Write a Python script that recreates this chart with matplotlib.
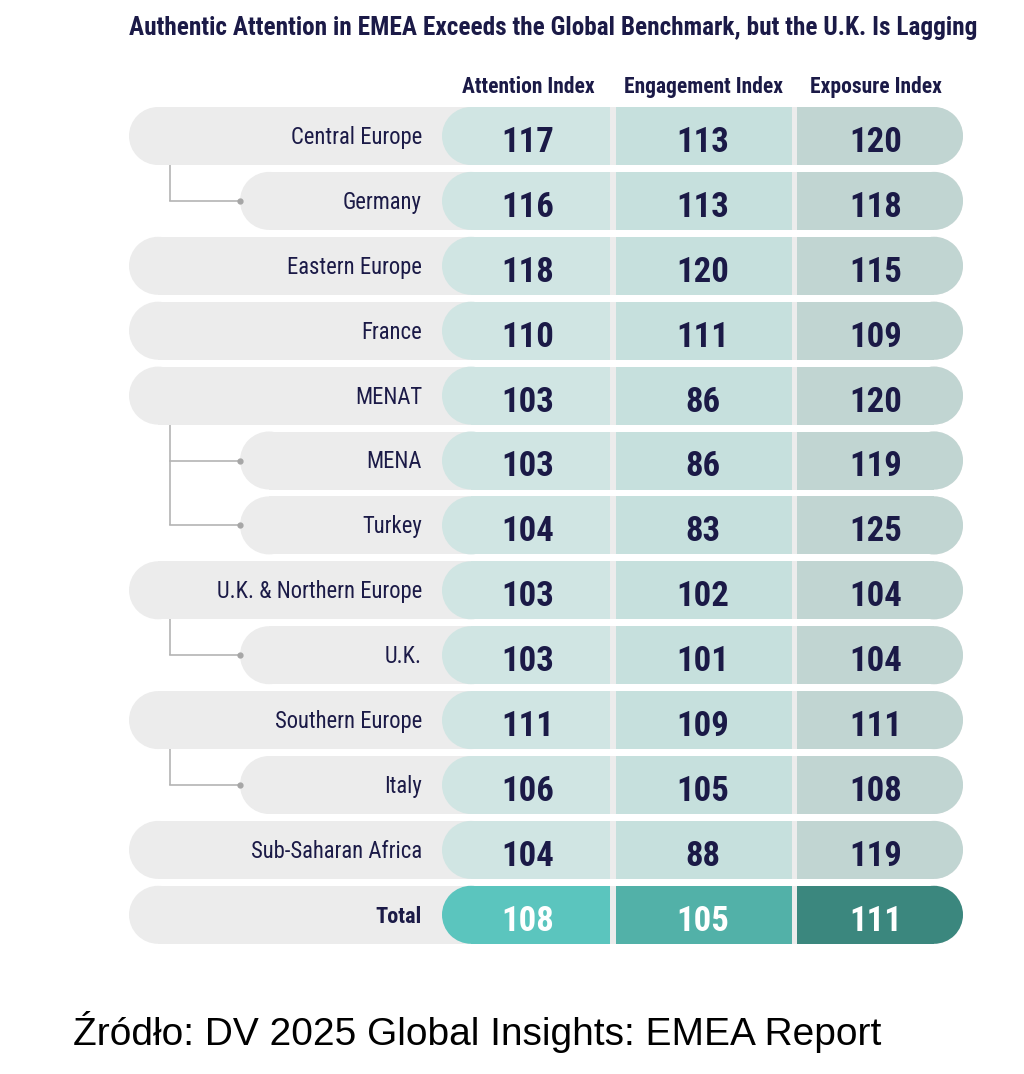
import matplotlib
matplotlib.use("Agg")
import matplotlib.pyplot as plt
from matplotlib.patches import Circle, Rectangle

# data
regions = ["Central Europe", "Germany", "Eastern Europe", "France", "MENAT", "MENA",
           "Turkey", "U.K. & Northern Europe", "U.K.", "Southern Europe", "Italy",
           "Sub-Saharan Africa", "Total"]
level = [0, 1, 0, 0, 0, 1, 1, 0, 1, 0, 1, 0, 0]
attention = [117, 116, 118, 110, 103, 103, 104, 103, 103, 111, 106, 104, 108]
engagement = [113, 113, 120, 111, 86, 86, 83, 102, 101, 109, 105, 88, 105]
exposure = [120, 118, 115, 109, 120, 119, 125, 104, 104, 111, 108, 119, 111]
columns = ["Attention Index", "Engagement Index", "Exposure Index"]

title = "Authentic Attention in EMEA Exceeds the Global Benchmark, but the U.K. Is Lagging"
source = "Źródło: DV 2025 Global Insights: EMEA Report"

NAVY = "#1b1a47"
GREY = "#ececec"
LINE = "#b4b4b4"
cell_colors = ["#d0e5e3", "#c6e0dd", "#c1d5d2"]
total_colors = ["#5bc5be", "#52b1a8", "#3b877e"]
COND = "Roboto Condensed"

W, H = 1024, 1074
fig = plt.figure(figsize=(W / 100, H / 100), dpi=100)
ax = fig.add_axes([0, 0, 1, 1])
ax.set_xlim(0, W)
ax.set_ylim(H, 0)
ax.axis("off")

y0, pitch, half = 136, 64.9, 29
left_main, left_child, right = 129, 240, 963
col_edges = [(442, 610), (616, 792), (797, 963)]
col_centers = [528, 703, 876]


def rect(x0, x1, yc, color):
    ax.add_patch(Rectangle((x0, yc - half), x1 - x0, 2 * half, fc=color, ec="none", lw=0))


def cap(xc, yc, color):
    ax.add_patch(Circle((xc, yc), half, fc=color, ec="none", lw=0))


def pill(x0, x1, yc, color, round_left=True, round_right=True):
    a = x0 + half if round_left else x0
    b = x1 - half if round_right else x1
    rect(a, b, yc, color)
    if round_left:
        cap(x0 + half, yc, color)
    if round_right:
        cap(x1 - half, yc, color)


# title and headers
ax.text(553, 28, title, ha="center", va="center", family=COND, weight="bold",
        fontsize=18.2, color=NAVY)
for cx, name in zip(col_centers, columns):
    ax.text(cx, 87, name, ha="center", va="center", family=COND, weight="bold",
            fontsize=15.5, color=NAVY)

n = len(regions)
for i in range(n):
    yc = y0 + i * pitch
    is_total = regions[i] == "Total"
    x_left = left_child if level[i] else left_main
    pill(x_left, right, yc, GREY)

    colors = total_colors if is_total else cell_colors
    pill(*col_edges[0], yc, colors[0], round_right=False)
    pill(*col_edges[1], yc, colors[1], round_left=False, round_right=False)
    pill(*col_edges[2], yc, colors[2], round_left=False)

    ax.text(422, yc + 8, regions[i], ha="right", va="baseline", family=COND,
            weight="bold" if is_total else "normal", fontsize=16 if is_total else 16.3,
            color=NAVY)
    vals = [attention[i], engagement[i], exposure[i]]
    for cx, v in zip(col_centers, vals):
        ax.text(cx, yc + 16, str(v), ha="center", va="baseline", family=COND,
                weight="bold", fontsize=25, color="white" if is_total else NAVY)

# connectors from parent rows to their sub-regions
vx, dot_x = 170, 240
i = 0
while i < n:
    if level[i] == 0:
        kids = []
        j = i + 1
        while j < n and level[j] == 1:
            kids.append(j)
            j += 1
        if kids:
            top = y0 + i * pitch + half
            bottom = y0 + kids[-1] * pitch
            ax.plot([vx, vx], [top, bottom], color=LINE, lw=1.2, zorder=3,
                    solid_capstyle="butt")
            for k in kids:
                yk = y0 + k * pitch
                ax.plot([vx, dot_x], [yk, yk], color=LINE, lw=1.2, zorder=3)
                ax.plot(dot_x, yk, "o", ms=3.5, color="#a6a6a6", zorder=4)
        i = j
    else:
        i += 1

ax.text(73, 1045, source, ha="left", va="baseline", family="Liberation Sans",
        fontsize=28, color="black")

fig.savefig("out.png", dpi=100)
